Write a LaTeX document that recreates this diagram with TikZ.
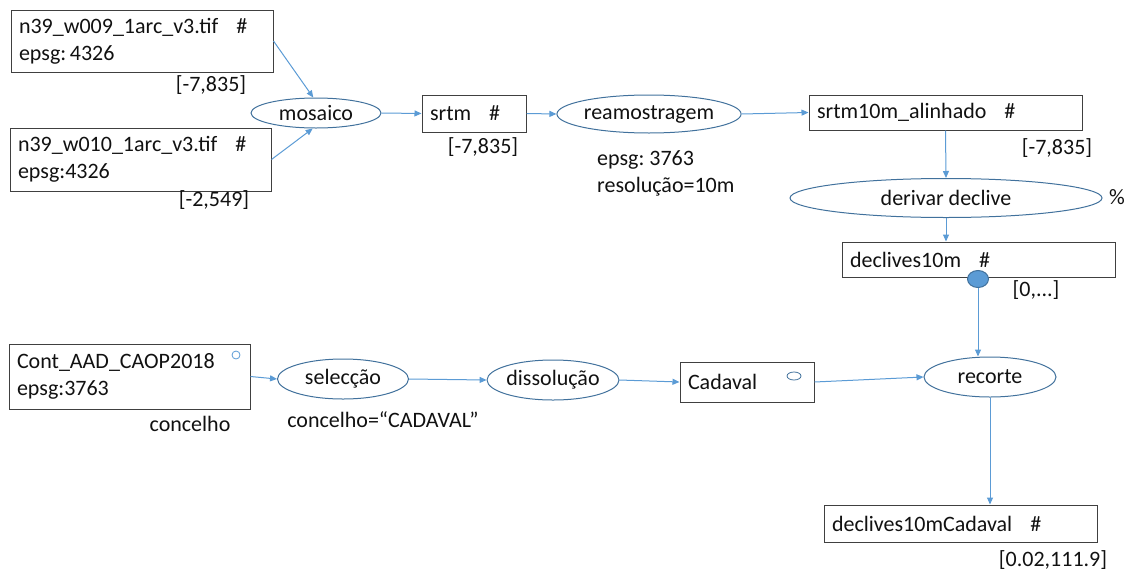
\documentclass[tikz,border=0pt]{standalone}
\usepackage{fontspec}
\setmainfont{Carlito}
\usetikzlibrary{shapes.geometric,arrows.meta,calc}
\definecolor{arrowc}{HTML}{5B9BD5}
\definecolor{ellc}{HTML}{41719C}
\definecolor{boxc}{HTML}{404040}
\definecolor{txtc}{HTML}{111111}
\newcommand{\hsp}{\hspace{18pt}}
\begin{document}
\frenchspacing
\begin{tikzpicture}[x=1pt,y=-1pt,
  every node/.style={font=\fontsize{22}{27}\selectfont, text=txtc},
  databox/.style={draw=boxc, line width=1pt, align=left, inner xsep=8pt, inner ysep=0pt, rectangle},
  procell/.style={draw=ellc, line width=1pt, ellipse, inner sep=0pt},
  lbl/.style={inner sep=0pt},
  conn/.style={draw=arrowc, line width=1pt, -{Triangle[length=7pt,width=6pt]}}
]
\useasboundingbox (0,0) rectangle (1131,573);

% data boxes
\node[databox, minimum width=262pt, minimum height=62pt, text width=246pt] (b1) at (142,41) {n39\_w009\_1arc\_v3.tif\hsp\#\\epsg:\,4326};
\node[databox, minimum width=261pt, minimum height=63pt, text width=245pt] (b2) at (140.5,159.5) {n39\_w010\_1arc\_v3.tif\hsp\#\\epsg:4326};
\node[databox, minimum width=104pt, minimum height=37pt, text width=88pt] (srtm) at (474,113.5) {srtm\hsp\#};
\node[databox, minimum width=273pt, minimum height=35pt, text width=257pt] (s10) at (945.5,112.5) {srtm10m\_alinhado\hsp\#};
\node[databox, minimum width=273pt, minimum height=35pt, text width=257pt] (dec) at (978.5,259.5) {declives10m\hsp\#};
\node[databox, minimum width=241pt, minimum height=65pt, text width=225pt] (cont) at (129.5,376.5) {Cont\_AAD\_CAOP2018\\epsg:3763};
\node[databox, minimum width=134pt, minimum height=40pt, text width=118pt] (cad) at (747,382) {Cadaval};
\node[databox, minimum width=273pt, minimum height=37pt, text width=257pt] (dcad) at (960.5,523.5) {declives10mCadaval\hsp\#};

% process ellipses
\node[procell, minimum width=130pt, minimum height=30pt] (mos) at (316,113) {mosaico};
\node[procell, minimum width=168pt, minimum height=38pt] (ream) at (649,114) {reamostragem};
\node[procell, minimum width=312pt, minimum height=39pt] (der) at (946,198) {derivar declive};
\node[procell, minimum width=131pt, minimum height=40pt] (sel) at (343,379) {selecção};
\node[procell, minimum width=130pt, minimum height=40pt] (dis) at (553,380) {dissolução};
\node[procell, minimum width=132pt, minimum height=40pt] (rec) at (990,377) {recorte};

% small markers
\node[draw=ellc, fill=arrowc, line width=1pt, ellipse, minimum width=21pt, minimum height=17pt, inner sep=0pt] (dot) at (978,279) {};
\node[draw=arrowc, line width=0.8pt, circle, minimum size=8pt, inner sep=0pt] (contmark) at (236,355) {};
\node[draw=ellc, line width=0.8pt, ellipse, minimum width=14pt, minimum height=8pt, inner sep=0pt] (cadmark) at (794,376) {};

% labels
\node[lbl] (l1) at (211,85) {[-7,835]};
\node[lbl] (l2) at (214,200) {[-2,549]};
\node[lbl] (l3) at (483,147) {[-7,835]};
\node[lbl, anchor=west, align=left] (l4) at (597,173.5) {epsg: 3763\\resolução=10m};
\node[lbl] (l5) at (1057,148) {[-7,835]};
\node[lbl] (l6) at (1117,197) {\%};
\node[lbl] (l7) at (1036,290) {[0,...]};
\node[lbl] (l8) at (190,424) {concelho};
\node[lbl] (l9) at (383,420) {concelho=“CADAVAL”};
\node[lbl] (l10) at (1053,560) {[0.02,111.9]};

% connectors
\draw[conn] (b1.east) -- (mos.100);
\draw[conn] (b2.east) -- (mos.258);
\draw[conn] (mos.east) -- (srtm.west);
\draw[conn] (srtm.east) -- (ream.west);
\draw[conn] (ream.east) -- (s10.west);
\draw[conn] (s10.south) -- (der.north);
\draw[conn] (der.south) -- (der.south |- dec.north);
\draw[conn] (dot.south) -- (dot.south |- rec.north);
\draw[conn] (rec.south) -- (rec.south |- dcad.north);
\draw[conn] (cont.east) -- (sel.west);
\draw[conn] (sel.east) -- (dis.west);
\draw[conn] (dis.east) -- (cad.west);
\draw[conn] (cad.east) -- (rec.west);
\end{tikzpicture}
\end{document}
